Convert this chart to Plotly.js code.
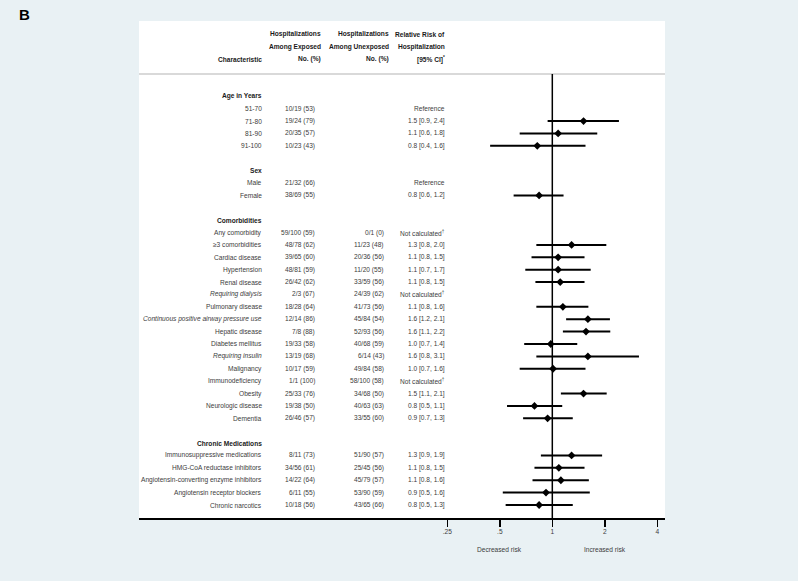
<!DOCTYPE html>
<html>
<head>
<meta charset="utf-8">
<script src="https://cdn.plot.ly/plotly-3.0.1.min.js"></script>
<style>html,body{margin:0;padding:0;background:#e9f1f4;}</style>
</head>
<body>
<div id="chart" style="width:798px;height:581px;"></div>
<script>
// ---- data ----
const characteristics = [
  'Age in Years','51-70','71-80','81-90','91-100','',
  'Sex','Male','Female','',
  'Comorbidities','Any comorbidity','≥3 comorbidities','Cardiac disease','Hypertension','Renal disease',
  'Requiring dialysis','Pulmonary disease','Continuous positive airway pressure use','Hepatic disease',
  'Diabetes mellitus','Requiring insulin','Malignancy','Immunodeficiency','Obesity','Neurologic disease','Dementia','',
  'Chronic Medications','Immunosuppressive medications','HMG-CoA reductase inhibitors',
  'Angiotensin-converting enzyme inhibitors','Angiotensin receptor blockers','Chronic narcotics'
];
const sectionHeaders = ['Age in Years','Sex','Comorbidities','Chronic Medications'];
const italicRows = ['Requiring dialysis','Continuous positive airway pressure use','Requiring insulin'];
const exposed = [
  '','10/19 (53)','19/24 (79)','20/35 (57)','10/23 (43)','',
  '','21/32 (66)','38/69 (55)','',
  '','59/100 (59)','48/78 (62)','39/65 (60)','48/81 (59)','26/42 (62)',
  '2/3 (67)','18/28 (64)','12/14 (86)','7/8 (88)',
  '19/33 (58)','13/19 (68)','10/17 (59)','1/1 (100)','25/33 (76)','19/38 (50)','26/46 (57)','',
  '','8/11 (73)','34/56 (61)','14/22 (64)','6/11 (55)','10/18 (56)'
];
const unexposed = [
  '','','','','','',
  '','','','',
  '','0/1 (0)','11/23 (48)','20/36 (56)','11/20 (55)','33/59 (56)',
  '24/39 (62)','41/73 (56)','45/84 (54)','52/93 (56)',
  '40/68 (59)','6/14 (43)','49/84 (58)','58/100 (58)','34/68 (50)','40/63 (63)','33/55 (60)','',
  '','51/90 (57)','25/45 (56)','45/79 (57)','53/90 (59)','43/65 (66)'
];
const NC = 'Not calculated<sup>†</sup>';
const rrText = [
  '','Reference','1.5 [0.9, 2.4]','1.1 [0.6, 1.8]','0.8 [0.4, 1.6]','',
  '','Reference','0.8 [0.6, 1.2]','',
  '',NC,'1.3 [0.8, 2.0]','1.1 [0.8, 1.5]','1.1 [0.7, 1.7]','1.1 [0.8, 1.5]',
  NC,'1.1 [0.8, 1.6]','1.6 [1.2, 2.1]','1.6 [1.1, 2.2]',
  '1.0 [0.7, 1.4]','1.6 [0.8, 3.1]','1.0 [0.7, 1.6]',NC,'1.5 [1.1, 2.1]','0.8 [0.5, 1.1]','0.9 [0.7, 1.3]','',
  '','1.3 [0.9, 1.9]','1.1 [0.8, 1.5]','1.1 [0.8, 1.6]','0.9 [0.5, 1.6]','0.8 [0.5, 1.3]'
];
const estimate = [
  null,null,1.51,1.08,0.82,null,
  null,null,0.84,null,
  null,null,1.29,1.08,1.08,1.11,
  null,1.15,1.60,1.56,
  0.98,1.60,1.01,null,1.51,0.79,0.94,null,
  null,1.29,1.09,1.12,0.92,0.84
];
const lower = [
  null,null,0.94,0.65,0.44,null,
  null,null,0.60,null,
  null,null,0.81,0.76,0.70,0.80,
  null,0.81,1.20,1.15,
  0.69,0.81,0.65,null,1.12,0.55,0.68,null,
  null,0.86,0.79,0.77,0.52,0.54
];
const upper = [
  null,null,2.41,1.81,1.55,null,
  null,null,1.16,null,
  null,null,2.04,1.53,1.66,1.53,
  null,1.61,2.14,2.15,
  1.39,3.14,1.55,null,2.05,1.14,1.31,null,
  null,1.93,1.53,1.62,1.64,1.31
];
const tickVals = [0.25, 0.5, 1, 2, 4];
const tickLabels = ['.25', '.5', '1', '2', '4'];
const colHeaders = [
  ['', '', 'Characteristic'],
  ['Hospitalizations', 'Among Exposed', 'No. (%)'],
  ['Hospitalizations', 'Among Unexposed', 'No. (%)'],
  ['Relative Risk of', 'Hospitalization', '[95% CI]<sup>*</sup>']
];

// ---- build ----
const FONT = 'Liberation Sans, Arial, Helvetica, sans-serif';
const FS = 6.6;
const TXT = '#3c3c3c';
const rows = characteristics.map((_, i) => i);

const px = [], py = [], ep = [], em = [];
rows.forEach(i => {
  if (estimate[i] !== null) {
    px.push(estimate[i]); py.push(i);
    ep.push(upper[i] - estimate[i]); em.push(estimate[i] - lower[i]);
  }
});

const traces = [
  {
    x: [1, 1], y: [-1.8, 34.05], mode: 'lines', type: 'scatter',
    line: {color: '#000', width: 1.5}, hoverinfo: 'skip', showlegend: false
  },
  {
    x: px, y: py, mode: 'markers', type: 'scatter',
    marker: {symbol: 'diamond', size: 6, color: '#000'},
    error_x: {type: 'data', symmetric: false, array: ep, arrayminus: em,
              color: '#000', thickness: 2, width: 0},
    showlegend: false, hoverinfo: 'skip'
  }
];

const W = 526, L = 139;
const colX = {
  label: (264 - L) / W,
  exp: (317 - L) / W,
  unexp: (385.5 - L) / W,
  rr: (447 - L) / W,
  expH: (323.3 - L) / W,
  unexpH: (390.7 - L) / W,
  rrH: (447.3 - L) / W
};

const ann = [];
function addText(x, y, text, opts) {
  ann.push(Object.assign({
    xref: 'paper', yref: 'y', x: x, y: y, text: text, showarrow: false,
    xanchor: 'right', yanchor: 'middle',
    font: {family: FONT, size: FS, color: TXT}
  }, opts || {}));
}
rows.forEach(i => {
  const c = characteristics[i];
  if (c) {
    if (sectionHeaders.includes(c)) {
      addText(colX.label, i, '<b>' + c + '</b>', {font: {family: FONT, size: FS, color: '#1a1a1a'}});
    } else if (italicRows.includes(c)) {
      addText(colX.label, i, '<i>' + c + '</i>');
    } else {
      addText(colX.label, i, c);
    }
  }
  if (exposed[i]) addText(colX.exp, i, exposed[i]);
  if (unexposed[i]) addText(colX.unexp, i, unexposed[i]);
  if (rrText[i]) addText(colX.rr, i, rrText[i]);
});
const hx = [colX.label, colX.expH, colX.unexpH, colX.rrH];
colHeaders.forEach((lines, c) => {
  lines.forEach((t, k) => {
    if (t) addText(hx[c], -5 + k, '<b>' + t + '</b>', {font: {family: FONT, size: FS, color: '#1a1a1a'}});
  });
});
// axis captions
ann.push({xref: 'paper', yref: 'paper', x: (499 - L) / W, y: -0.0624, text: 'Decreased risk',
  showarrow: false, xanchor: 'center', yanchor: 'middle', font: {family: FONT, size: FS, color: TXT}});
ann.push({xref: 'paper', yref: 'paper', x: (604.7 - L) / W, y: -0.0624, text: 'Increased risk',
  showarrow: false, xanchor: 'center', yanchor: 'middle', font: {family: FONT, size: FS, color: TXT}});
// panel letter
ann.push({xref: 'paper', yref: 'paper', x: (17 - L) / W, y: (518 - 15) / 497, text: '<b>B</b>',
  showarrow: false, xanchor: 'left', yanchor: 'middle', font: {family: FONT, size: 15, color: '#000'}});

const layout = {
  width: 798, height: 581,
  margin: {l: 139, r: 133, t: 21, b: 63, pad: 0},
  paper_bgcolor: '#e9f1f4',
  plot_bgcolor: '#ffffff',
  showlegend: false,
  xaxis: {
    type: 'log', range: [-2.370, 0.6462], tickvals: tickVals, ticktext: tickLabels,
    ticks: 'outside', ticklen: 7, tickwidth: 1.5, tickcolor: '#000',
    showline: true, linecolor: '#000', linewidth: 1.5, mirror: false,
    showgrid: false, zeroline: false, fixedrange: true,
    tickfont: {family: FONT, size: FS, color: TXT}
  },
  yaxis: {
    range: [34.05, -6.08], visible: false, showgrid: false, zeroline: false, fixedrange: true
  },
  shapes: [
    {type: 'line', xref: 'paper', yref: 'y', x0: 0, x1: 1, y0: -1.8, y1: -1.8,
     line: {color: '#cccccc', width: 1.5}, layer: 'below'}
  ],
  annotations: ann
};

Plotly.newPlot('chart', traces, layout, {staticPlot: true, displayModeBar: false});
</script>
</body>
</html>
